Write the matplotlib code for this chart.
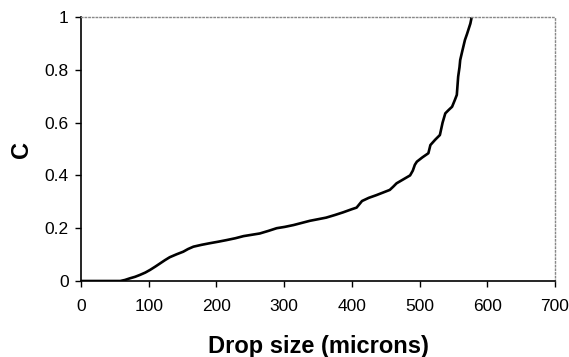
import matplotlib.pyplot as plt

# cumulative fraction C vs drop size (microns)
drop_size = [0, 40, 58, 65, 72, 80, 87, 95, 102, 110, 117, 124, 131, 141, 151, 158, 166,
             178, 190, 203, 215, 228, 240, 252, 264, 277, 289, 301, 314, 326, 338, 350,
             362, 375, 387, 400, 407, 415, 425, 436, 446, 456, 461, 466, 476, 486, 490,
             493, 496, 504, 513, 516, 523, 530, 534, 538, 543, 548, 552, 555, 557, 559,
             560, 563, 567, 570, 572, 575, 577]
c_value = [0, 0, 0, 0.004, 0.01, 0.016, 0.023, 0.032, 0.042, 0.055, 0.067, 0.079, 0.09,
           0.101, 0.111, 0.121, 0.13, 0.137, 0.143, 0.149, 0.155, 0.162, 0.17, 0.175,
           0.18, 0.19, 0.2, 0.205, 0.212, 0.22, 0.228, 0.234, 0.24, 0.25, 0.26, 0.272,
           0.278, 0.303, 0.315, 0.325, 0.335, 0.345, 0.357, 0.37, 0.385, 0.4, 0.418, 0.44,
           0.452, 0.468, 0.484, 0.515, 0.535, 0.553, 0.6, 0.635, 0.648, 0.66, 0.685, 0.705,
           0.774, 0.81, 0.837, 0.87, 0.913, 0.935, 0.951, 0.975, 1.0]

plt.rcParams['font.family'] = ['Liberation Sans', 'DejaVu Sans']

fig = plt.figure(figsize=(5.69, 3.57), dpi=100)
ax = fig.add_axes([81 / 569, 1 - 281 / 357, 474 / 569, 264 / 357])
ax.plot(drop_size, c_value, color='black', lw=1.9)

ax.set_xlim(0, 700)
ax.set_ylim(0, 1)
ax.set_xticks(range(0, 701, 100))
ax.set_yticks([0, 0.2, 0.4, 0.6, 0.8, 1])
ax.set_yticklabels(['0', '0.2', '0.4', '0.6', '0.8', '1'])
ax.tick_params(direction='out', length=4, width=1, labelsize=12.5, pad=5)
ax.tick_params(axis='x', pad=9)

for s in ['left', 'bottom']:
    ax.spines[s].set_linewidth(1.2)
for s in ['top', 'right']:
    ax.spines[s].set_color('#888888')
    ax.spines[s].set_linestyle(':')
    ax.spines[s].set_linewidth(1)

ax.set_xlabel('Drop size (microns)', fontsize=17, fontweight='bold', labelpad=15)
ax.set_ylabel('C', fontsize=17, fontweight='bold', labelpad=8)

fig.savefig('out.png', dpi=100)
